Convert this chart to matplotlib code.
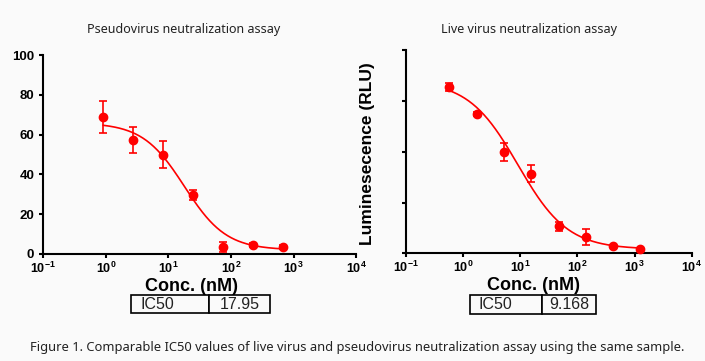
import numpy as np
import matplotlib
matplotlib.use("Agg")
import matplotlib.pyplot as plt
from matplotlib.ticker import LogLocator, FuncFormatter

plt.rcParams['font.family'] = ['Liberation Sans', 'DejaVu Sans']
plt.rcParams['mathtext.fontset'] = 'custom'
plt.rcParams['mathtext.rm'] = 'Liberation Sans:bold'
plt.rcParams['mathtext.bf'] = 'Liberation Sans:bold'

# pseudovirus assay (left panel)
pseudo_conc = [0.91, 2.74, 8.23, 24.7, 74.1, 222, 667]
pseudo_resp = [68.7, 57.5, 50.0, 29.5, 3.5, 4.5, 3.5]
pseudo_err = [8.0, 6.5, 7.0, 2.5, 2.5, 1.0, 1.0]
# 4PL fit parameters: top, bottom, IC50, hill slope
pseudo_fit = (66.0, 2.0, 17.95, 1.3)
pseudo_ic50 = "17.95"

# live virus assay (right panel)
live_conc = [0.58, 1.74, 5.2, 15.6, 47, 141, 423, 1270]
live_resp = [82.0, 68.5, 49.7, 39.2, 13.4, 8.2, 3.7, 2.3]
live_err = [2.0, 1.0, 4.4, 4.3, 2.2, 4.0, 0.6, 0.5]
live_fit = (85.0, 2.0, 9.168, 1.0)
live_ic50 = "9.168"

titles = ["Pseudovirus neutralization assay", "Live virus neutralization assay"]
caption = ("Figure 1. Comparable IC50 values of live virus and pseudovirus "
           "neutralization assay using the same sample.")

RED = '#ff0000'
BG = '#fafafa'


def four_pl(x, top, bottom, ic50, hill):
    return bottom + (top - bottom) / (1 + (x / ic50) ** hill)


def style_axis(ax):
    ax.set_facecolor(BG)
    ax.set_xscale('log')
    ax.set_xlim(0.1, 1e4)
    ax.set_ylim(0, 100)
    ax.spines['top'].set_visible(False)
    ax.spines['right'].set_visible(False)
    for s in ('left', 'bottom'):
        ax.spines[s].set_linewidth(1.5)
        ax.spines[s].set_clip_on(False)
    ax.xaxis.set_major_locator(LogLocator(base=10, numticks=10))
    ax.xaxis.set_minor_locator(plt.NullLocator())
    ax.xaxis.set_major_formatter(FuncFormatter(
        lambda v, p: r'$\mathbf{10^{%d}}$' % int(round(np.log10(v)))))
    ax.tick_params(direction='out', length=3, width=1.5, labelsize=9.5)
    ax.tick_params(axis='x', pad=2, labelsize=9)


def draw_panel(ax, conc, resp, err, fit):
    xs = np.logspace(np.log10(conc[0]), np.log10(conc[-1]), 200)
    ax.plot(xs, four_pl(xs, *fit), color=RED, lw=1.2, clip_on=False)
    ax.errorbar(conc, resp, yerr=err, fmt='o', color=RED, ms=6,
                capsize=3, elinewidth=1.2, capthick=1.2, clip_on=False, zorder=3)


def add_table(ax, value, bbox, col_split):
    tb = ax.table(cellText=[['IC50', value]], bbox=bbox,
                  colWidths=[col_split, 1 - col_split], cellLoc='center')
    tb.auto_set_font_size(False)
    for (r, c), cell in tb.get_celld().items():
        cell.set_linewidth(1.2)
        cell.set_facecolor(BG)
        cell.get_text().set_fontsize(11.5)
        cell.get_text().set_color('#222222')
        if c == 0:
            cell.get_text().set_horizontalalignment('left')
            cell.PAD = 0.12


fig = plt.figure(figsize=(7.05, 3.61), dpi=100, facecolor=BG)

ax1 = fig.add_axes([0.0614, 0.2964, 0.444, 0.551])
style_axis(ax1)
ax1.set_yticks([0, 20, 40, 60, 80, 100])
ax1.set_yticklabels(['0', '20', '40', '60', '80', '100'], fontweight='bold')
draw_panel(ax1, pseudo_conc, pseudo_resp, pseudo_err, pseudo_fit)
ax1.set_xlabel('Conc. (nM)', fontsize=13, fontweight='bold')
ax1.xaxis.set_label_coords(0.473, -0.12)
add_table(ax1, pseudo_ic50, [0.280, -0.298, 0.443, 0.092], 0.563)

ax2 = fig.add_axes([0.5755, 0.2983, 0.4057, 0.563])
style_axis(ax2)
ax2.set_yticks([0, 25, 50, 75, 100])
ax2.set_yticklabels([])
draw_panel(ax2, live_conc, live_resp, live_err, live_fit)
ax2.set_xlabel('Conc. (nM)', fontsize=13, fontweight='bold')
ax2.xaxis.set_label_coords(0.445, -0.117)
ax2.text(-0.135, 0.49, 'Luminesecence (RLU)', rotation=90, fontsize=12.5,
         fontweight='bold', ha='center', va='center', transform=ax2.transAxes)
add_table(ax2, live_ic50, [0.225, -0.2986, 0.441, 0.0935], 0.574)

fig.text(0.26, 0.917, titles[0], family='Noto Sans', fontsize=9,
         ha='center', va='center', color='#222222')
fig.text(0.750, 0.917, titles[1], family='Noto Sans', fontsize=9,
         ha='center', va='center', color='#222222')
fig.text(0.506, 1 - 347 / 361, caption, family='Noto Sans', fontsize=9.3,
         ha='center', va='center', color='#222222')

fig.savefig('out.png', dpi=100, facecolor=BG)
